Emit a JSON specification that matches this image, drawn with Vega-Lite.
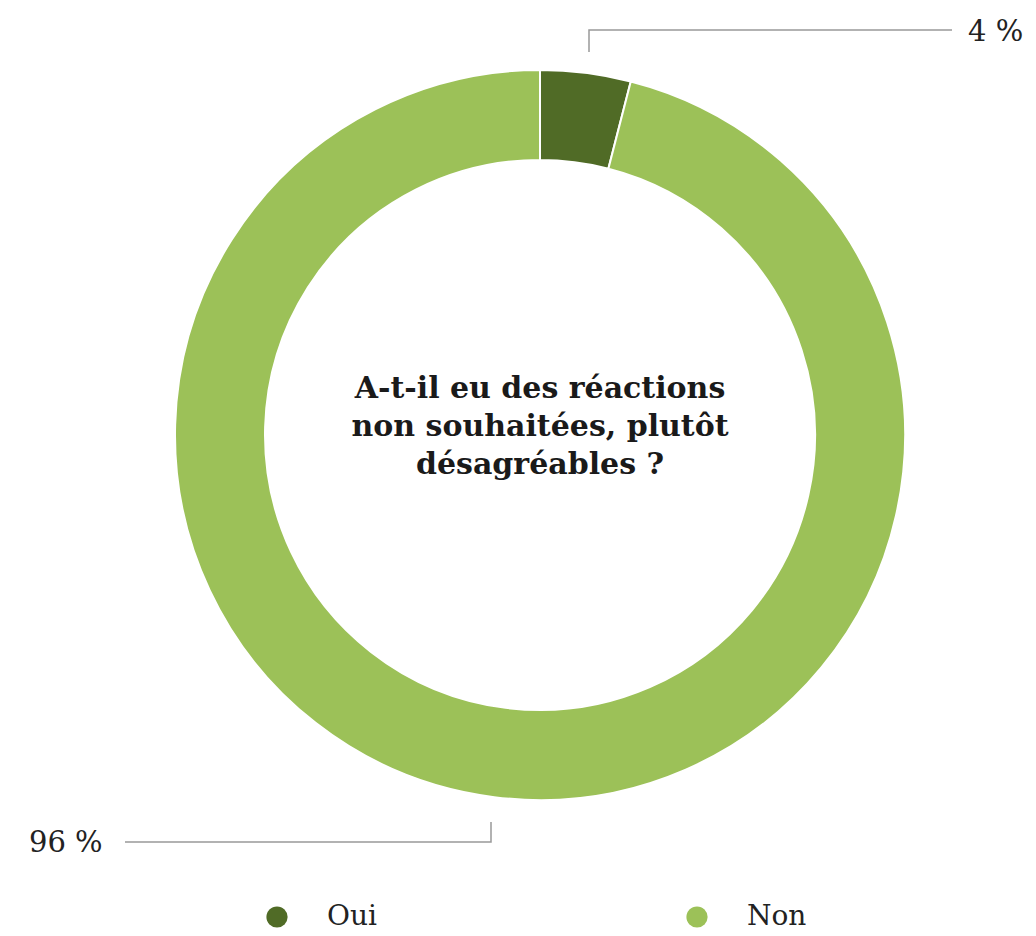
{
  "$schema": "https://vega.github.io/schema/vega-lite/v6.json",
  "width": 1036,
  "height": 936,
  "autosize": {"type": "fit", "contains": "padding"},
  "padding": 0,
  "background": "white",
  "config": {"view": {"stroke": null}, "font": "DejaVu Serif"},
  "datasets": {
    "parts": [
      {"reponse": "Oui", "pct": 4, "ordre": 1},
      {"reponse": "Non", "pct": 96, "ordre": 2}
    ],
    "leaders": [
      {"label": "Oui", "seq": 1, "x": 49, "y": 383},
      {"label": "Oui", "seq": 2, "x": 49, "y": 405},
      {"label": "Oui", "seq": 3, "x": 412, "y": 405},
      {"label": "Non", "seq": 1, "x": -49, "y": -387},
      {"label": "Non", "seq": 2, "x": -49, "y": -407},
      {"label": "Non", "seq": 3, "x": -415, "y": -407}
    ],
    "labels": [
      {"texte": "4 %", "x": 428, "y": 403},
      {"texte": "96 %", "x": -511, "y": -408}
    ]
  },
  "layer": [
    {
      "data": {"name": "parts"},
      "mark": {"type": "arc", "innerRadius": 275, "outerRadius": 365, "stroke": "white", "strokeWidth": 2},
      "encoding": {
        "theta": {"field": "pct", "type": "quantitative", "stack": true},
        "order": {"field": "ordre", "type": "quantitative"},
        "color": {
          "field": "reponse",
          "type": "nominal",
          "scale": {"domain": ["Oui", "Non"], "range": ["#506b26", "#9cc158"]},
          "legend": {
            "title": null,
            "orient": "none",
            "legendX": 263,
            "legendY": 903,
            "direction": "horizontal",
            "symbolType": "circle",
            "symbolSize": 450,
            "symbolStrokeWidth": 0,
            "labelFont": "DejaVu Serif",
            "labelFontSize": 28,
            "labelColor": "#222222",
            "labelOffset": 36,
            "columnPadding": 306,
            "labelLimit": 300
          }
        },
        "x": {"datum": 0, "type": "quantitative", "scale": {"domain": [-540, 496], "nice": false, "zero": false}, "axis": null},
        "y": {"datum": 0, "type": "quantitative", "scale": {"domain": [-501, 435], "nice": false, "zero": false}, "axis": null}
      }
    },
    {
      "data": {"name": "leaders"},
      "mark": {"type": "line", "color": "#999999", "strokeWidth": 1.5},
      "encoding": {
        "x": {"field": "x", "type": "quantitative"},
        "y": {"field": "y", "type": "quantitative"},
        "detail": {"field": "label", "type": "nominal"},
        "order": {"field": "seq", "type": "quantitative"}
      }
    },
    {
      "data": {"name": "labels"},
      "mark": {"type": "text", "align": "left", "baseline": "middle", "fontSize": 29, "font": "DejaVu Serif", "color": "#222222"},
      "encoding": {
        "x": {"field": "x", "type": "quantitative"},
        "y": {"field": "y", "type": "quantitative"},
        "text": {"field": "texte", "type": "nominal"}
      }
    },
    {
      "data": {"values": [{"question": "A-t-il eu des réactions\nnon souhaitées, plutôt\ndésagréables ?", "cx": 0, "cy": 46}]},
      "mark": {"type": "text", "align": "center", "baseline": "middle", "fontSize": 30, "fontWeight": "bold", "font": "DejaVu Serif", "color": "#1a1a1a", "lineBreak": "\n", "lineHeight": 38},
      "encoding": {
        "x": {"field": "cx", "type": "quantitative"},
        "y": {"field": "cy", "type": "quantitative"},
        "text": {"field": "question", "type": "nominal"}
      }
    }
  ]
}
